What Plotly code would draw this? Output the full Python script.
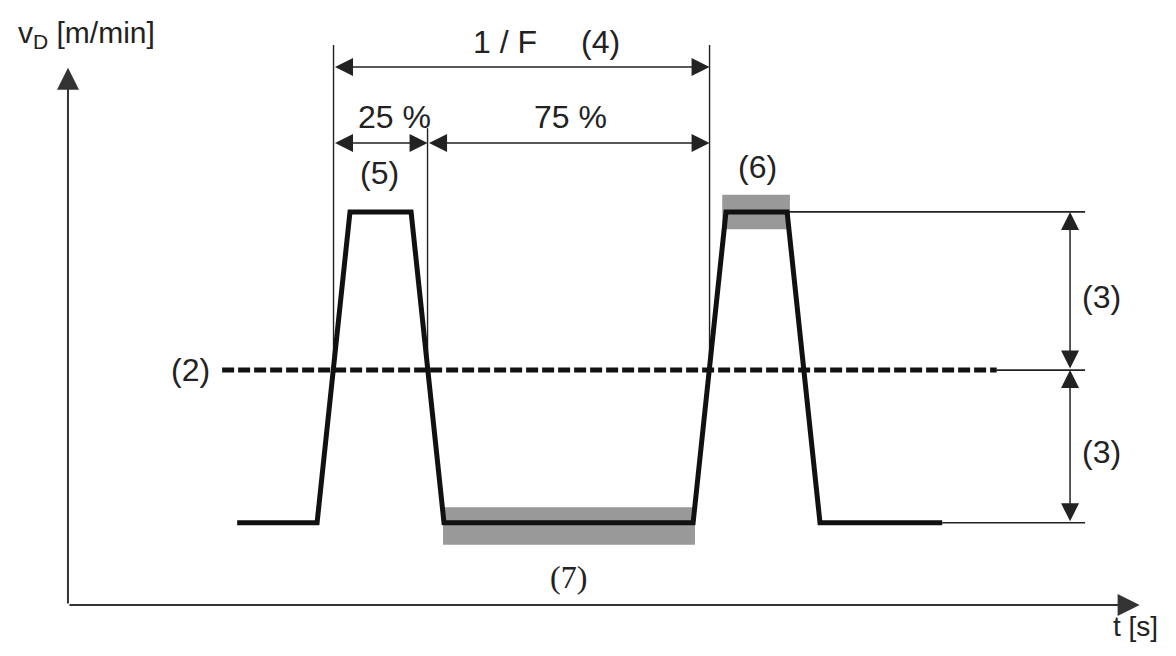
import plotly.graph_objects as go

# ---- data (time in arbitrary units, velocity in arbitrary units) ----
t_wave = [1.8, 2.65, 3.0, 3.65, 4.0, 6.65, 7.0, 7.65, 8.0, 9.3]
v_low, v_mean, v_high = 1.05, 3.0, 5.02
v_wave = [v_low, v_low, v_high, v_high, v_low, v_low, v_high, v_high, v_low, v_low]

t_mean_line = [1.64, 9.88]
period_start, period_split, period_end = 2.825, 3.825, 6.825
band6_t = [6.96, 7.68]; band6_v = [4.8, 5.24]
band7_t = [3.99, 6.67]; band7_v = [0.77, 1.25]
ref_end = 10.82
dim_t = 10.66

XR = [-0.638, 11.702]
YR = [-0.549, 7.624]

fig = go.Figure()

# tolerance bands
for bt, bv in [(band6_t, band6_v), (band7_t, band7_v)]:
    fig.add_shape(type="rect", x0=bt[0], x1=bt[1], y0=bv[0], y1=bv[1],
                  fillcolor="#999999", line_width=0, layer="below")

# reference horizontal thin lines (right side)
for x0, y in [(7.65, v_high), (t_mean_line[1], v_mean), (t_wave[-1], v_low)]:
    fig.add_trace(go.Scatter(x=[x0, ref_end], y=[y, y], mode="lines",
                             line=dict(color="#222", width=1.6), hoverinfo="skip"))

# extension lines
for tx, top in [(period_start, 7.15), (period_split, 6.09), (period_end, 7.15)]:
    fig.add_trace(go.Scatter(x=[tx, tx], y=[v_mean, top], mode="lines",
                             line=dict(color="#222", width=1.4), hoverinfo="skip"))

# mean line (dashed)
fig.add_trace(go.Scatter(x=t_mean_line, y=[v_mean, v_mean], mode="lines",
                         line=dict(color="#111", width=5, dash="12px,4px"), hoverinfo="skip"))

# waveform
fig.add_trace(go.Scatter(x=t_wave, y=v_wave, mode="lines",
                         line=dict(color="#111", width=5), hoverinfo="skip"))

def arrow(x0, y0, x1, y1, both=True, w=1.5, color="#222", size=2.4):
    fig.add_annotation(x=x1, y=y1, ax=x0, ay=y0, xref="x", yref="y", axref="x", ayref="y",
                       showarrow=True, arrowhead=2, arrowsize=size, arrowwidth=w,
                       arrowcolor=color, arrowside="end+start" if both else "end",
                       startarrowhead=2, startarrowsize=size, standoff=0, startstandoff=0, text="")

# dimension arrows
arrow(period_start, 6.87, period_end, 6.87)
arrow(period_start, 5.9, period_split, 5.9)
arrow(period_split, 5.9, period_end, 5.9)
arrow(dim_t, v_mean, dim_t, v_high)
arrow(dim_t, v_low, dim_t, v_mean)

# axes
arrow(0, 0, 0, 6.86, both=False, w=2, color="#333", size=2.2)
arrow(0, 0, 11.4, 0, both=False, w=2, color="#333", size=2.2)

FONT = "Liberation Sans, Arial"
def label(x, y, text, size=32, family=FONT, xanchor="center"):
    fig.add_annotation(x=x, y=y, xref="x", yref="y", text=text, showarrow=False,
                       font=dict(family=family, size=size, color="#222"), xanchor=xanchor)

label(4.65, 7.19, "1 / F")
label(5.66, 7.19, "(4)")
label(3.47, 6.23, "25 %")
label(5.35, 6.23, "75 %")
label(3.31, 5.52, "(5)")
label(7.33, 5.59, "(6)")
label(5.32, 0.36, "(7)", family="Liberation Serif, Times New Roman")
label(1.30, 3.0, "(2)")
label(10.99, 3.93, "(3)", size=32)
label(10.99, 1.95, "(3)", size=32)
label(11.36, -0.28, "t [s]", size=28)
label(-0.55, 7.28, "v<sub>D</sub> [m/min]", size=30, xanchor="left")

fig.update_layout(width=1160, height=640, margin=dict(l=0, r=0, t=0, b=0),
                  plot_bgcolor="white", paper_bgcolor="white", showlegend=False)
fig.update_xaxes(range=XR, visible=False)
fig.update_yaxes(range=YR, visible=False)

fig.write_html("out.html")
